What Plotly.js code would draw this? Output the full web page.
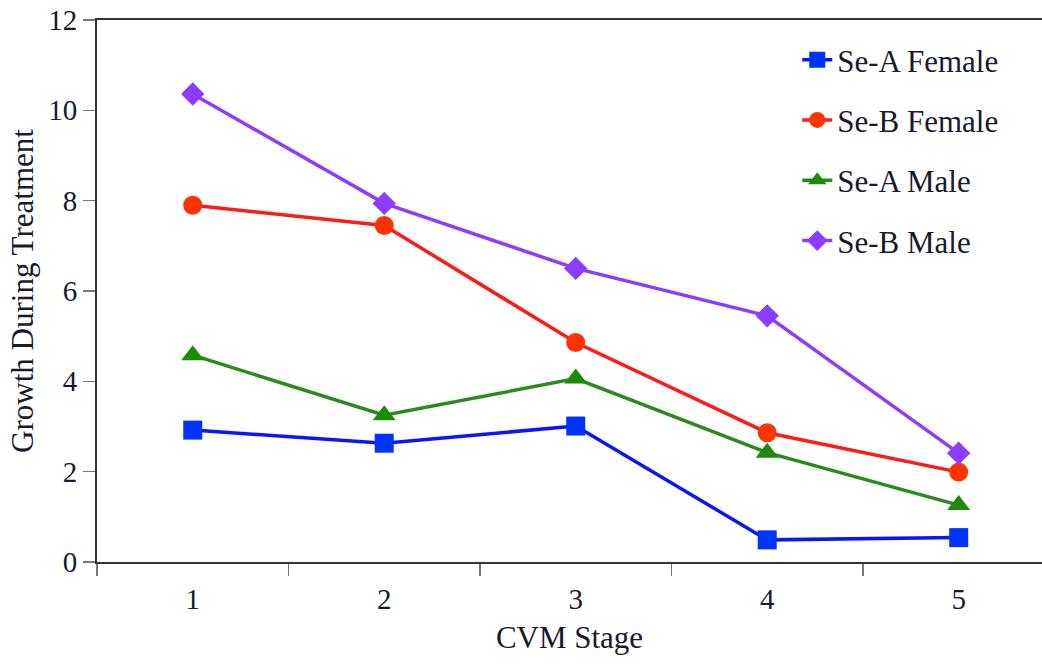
<!DOCTYPE html>
<html>
<head>
<meta charset="utf-8">
<script src="https://cdn.plot.ly/plotly-3.0.1.min.js"></script>
<style>html,body{margin:0;padding:0;background:#fff;}#chart{width:1042px;height:664px;}</style>
</head>
<body>
<div id="chart"></div>
<script>
const stages = ["1", "2", "3", "4", "5"];
const seAFemale = [2.92, 2.63, 3.01, 0.49, 0.54];
const seBFemale = [7.9, 7.45, 4.86, 2.86, 1.99];
const seAMale = [4.58, 3.25, 4.06, 2.42, 1.26];
const seBMale = [10.36, 7.94, 6.5, 5.45, 2.41];
const yTicks = [0, 2, 4, 6, 8, 10, 12];

const font = "Liberation Serif, DejaVu Serif, serif";

function tr(name, y, lineColor, markerColor, symbol, size, group) {
  return {
    type: "scatter", mode: "lines+markers", name: name, x: stages, y: y,
    legendgroup: group,
    line: {color: lineColor, width: 3.5},
    marker: {color: markerColor, symbol: symbol, size: size}
  };
}

const data = [
  tr("Se-A Female", seAFemale, "#0a14ff", "#0033ff", "square", 19, "a"),
  tr("Se-B Female", seBFemale, "#ff1a1a", "#ff3300", "circle", 19, "b"),
  tr("Se-A Male", seAMale, "#2a8a1e", "#1e8a0a", "triangle-up", 20, "c"),
  tr("Se-B Male", seBMale, "#8c3cff", "#8c3cff", "diamond", 18, "d")
];

const layout = {
  width: 1042, height: 664,
  margin: {l: 97, r: 0, t: 20, b: 102},
  paper_bgcolor: "#fff", plot_bgcolor: "#fff",
  font: {family: font, size: 29, color: "#1a1a2a"},
  showlegend: true,
  legend: {
    x: 0.741, y: 0.976, xanchor: "left", yanchor: "top",
    font: {family: font, size: 31, color: "#1a1a2a"},
    traceorder: "grouped", tracegroupgap: 17,
    bgcolor: "rgba(0,0,0,0)"
  },
  xaxis: {
    type: "category",
    range: [-0.5, 4.435],
    tickson: "boundaries",
    ticks: "outside", ticklen: 12, tickwidth: 1.5, tickcolor: "#777",
    ticklabelstandoff: 10,
    showline: true, linecolor: "#333", linewidth: 2, mirror: true,
    showgrid: false, zeroline: false,
    tickfont: {family: font, size: 29, color: "#1a1a2a"},
    title: {text: "CVM Stage", font: {family: font, size: 31, color: "#1a1a2a"}, standoff: 13}
  },
  yaxis: {
    range: [0, 12],
    tickvals: yTicks,
    ticks: "outside", ticklen: 12, tickwidth: 1.5, tickcolor: "#777",
    showline: true, linecolor: "#333", linewidth: 2,
    showgrid: false, zeroline: false,
    tickfont: {family: font, size: 29, color: "#1a1a2a"},
    title: {text: "Growth During Treatment", font: {family: font, size: 31, color: "#1a1a2a"}, standoff: 5}
  }
};

Plotly.newPlot("chart", data, layout, {displayModeBar: false, staticPlot: true});
</script>
</body>
</html>
